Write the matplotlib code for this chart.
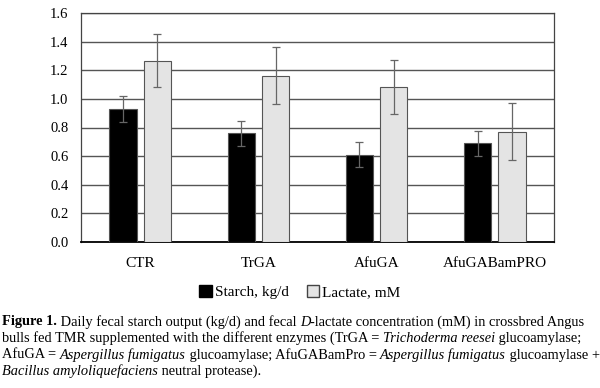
import numpy as np
import matplotlib.pyplot as plt
from matplotlib.patches import Patch

categories = ['CTR', 'TrGA', 'AfuGA', 'AfuGABamPRO']
starch = [0.93, 0.76, 0.61, 0.69]
starch_err = [0.09, 0.088, 0.088, 0.088]
lactate = [1.265, 1.162, 1.083, 0.772]
lactate_err = [0.185, 0.2, 0.187, 0.2]
yticks = [0.0, 0.2, 0.4, 0.6, 0.8, 1.0, 1.2, 1.4, 1.6]

plt.rcParams['font.family'] = 'Liberation Serif'

fig = plt.figure(figsize=(6, 3.88), dpi=100)
ax = fig.add_axes([81 / 600, 1 - 242 / 388, 473 / 600, 229 / 388])

x = np.arange(len(categories))
w = 0.23
ax.bar(x - 0.145, starch, w, color='black', edgecolor='#555555', lw=0.8, zorder=3)
ax.bar(x + 0.145, lactate, w, color='#e4e4e4', edgecolor='#555555', lw=0.8, zorder=3)
ax.errorbar(x - 0.145, starch, yerr=starch_err, fmt='none', ecolor='#666666',
            elinewidth=0.9, capsize=3, capthick=0.9, zorder=4)
ax.errorbar(x + 0.145, lactate, yerr=lactate_err, fmt='none', ecolor='#666666',
            elinewidth=0.9, capsize=3, capthick=0.9, zorder=4)

ax.set_xlim(-0.5, len(categories) - 0.5)
ax.set_ylim(0, 1.6)
ax.set_yticks(yticks)
ax.set_yticklabels(['%.1f' % v for v in yticks], fontsize=10.5)
ax.set_xticks(x)
ax.set_xticklabels(categories, fontsize=11)
ax.tick_params(axis='x', length=0, pad=11)
ax.tick_params(axis='y', length=0, pad=9)
ax.yaxis.grid(True, color='#555555', lw=1.0, zorder=0)
for s in ['left', 'top', 'right']:
    ax.spines[s].set_color('#444444')
    ax.spines[s].set_linewidth(0.9)
ax.spines['bottom'].set_color('black')
ax.spines['bottom'].set_linewidth(1.3)

# legend
handles = [Patch(facecolor='black', edgecolor='black'),
           Patch(facecolor='#e4e4e4', edgecolor='#444444')]
fig.legend(handles, ['Starch, kg/d', 'Lactate, mM'], loc='center',
           bbox_to_anchor=(0.5, 1 - 292 / 388), ncol=2, frameon=False,
           fontsize=11, handlelength=0.8, handleheight=0.8,
           handletextpad=0.2, columnspacing=1.2)

# caption, drawn run by run so bold/italic pieces line up
r = fig.canvas.get_renderer()

def runs(x0, y0, parts, size=10.4):
    xx = x0
    for s, style in parts:
        kw = {}
        if style == 'b':
            kw['fontweight'] = 'bold'
        elif style == 'i':
            kw['fontstyle'] = 'italic'
        t = fig.text(xx, y0, s, fontsize=size, va='center', ha='left', **kw)
        xx += t.get_window_extent(r).width / fig.bbox.width

lines = [
    [('Figure 1.', 'b'), (' Daily fecal starch output (kg/d) and fecal ', ''), ('D', 'i'),
     ('-lactate concentration (mM) in crossbred Angus', '')],
    [('bulls fed TMR supplemented with the different enzymes (TrGA = ', ''),
     ('Trichoderma reesei', 'i'), (' glucoamylase;', '')],
    [('AfuGA = ', ''), ('Aspergillus fumigatus', 'i'), (' glucoamylase; AfuGABamPro = ', ''),
     ('Aspergillus fumigatus', 'i'), (' glucoamylase +', '')],
    [('Bacillus amyloliquefaciens', 'i'), (' neutral protease).', '')],
]
for i, parts in enumerate(lines):
    runs(2 / 600, 1 - (322 + i * 16.5) / 388, parts)

fig.savefig('out.png', dpi=100)
